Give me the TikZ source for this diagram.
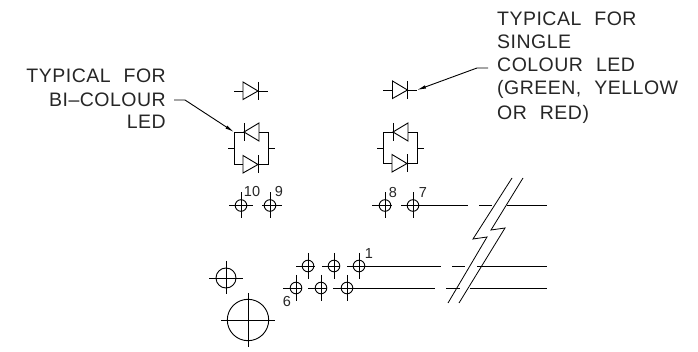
\documentclass[tikz,border=0pt]{standalone}
\usepackage{fontspec}
\setmainfont{Liberation Sans}
\usetikzlibrary{arrows.meta}
\newfontfamily\cadfont[LetterSpace=2.5,WordSpace=2.2]{Liberation Sans}
\newfontfamily\cadnum{Liberation Sans}
\tikzset{
  wire/.style={line width=0.9pt,black},
  leader/.style={line width=0.9pt,black,-{Latex[length=9pt,width=3.5pt]}},
  note/.style={font=\cadfont\fontsize{19.5}{19.5}\selectfont,inner sep=0pt,text=black!85},
  pinno/.style={font=\cadnum\fontsize{14.5}{14.5}\selectfont,inner sep=0pt,anchor=base,text=black!85},
  pics/diodeR/.style={code={% pointing right, centred on the wire
    \draw[wire] (-7.5,-9) -- (-7.5,8.5) -- (7.5,0) -- cycle;
    \draw[wire] (7.5,-9) -- (7.5,9);}},
  pics/diodeL/.style={code={% pointing left
    \draw[wire] (7.5,-9) -- (7.5,9) -- (-7.5,0) -- cycle;
    \draw[wire] (-7.5,-9) -- (-7.5,9);}},
  pics/pin/.style={code={%
    \draw[wire] (0,0) circle (5.8);
    \draw[wire] (0,-13) -- (0,13);}}
}
\begin{document}
\begin{tikzpicture}[x=1pt,y=-1pt]
\useasboundingbox (0,0) rectangle (698,352);
% Left notes
\node[note,anchor=base east] (ta) at (166,83) {TYPICAL FOR};
\node[note,anchor=base east] (tb) at (166,106.5) {BI–COLOUR};
\node[note,anchor=base east] (tc) at (166,128.5) {LED};
% Right notes
\node[note,anchor=base west] (ra) at (497,26) {TYPICAL FOR};
\node[note,anchor=base west] (rb) at (497,49) {SINGLE};
\node[note,anchor=base west] (rc) at (497,71.5) {COLOUR LED};
\node[note,anchor=base west] (rd) at (497,95) {(GREEN, YELLOW};
\node[note,anchor=base west] (re) at (497,119.5) {OR RED)};
% Leaders
\coordinate (la) at (174,100); \coordinate (lb) at (185,100); \coordinate (lc) at (234,132);
\coordinate (ma) at (488,68); \coordinate (mb) at (477,68); \coordinate (mc) at (417,90);
\draw[leader] (la) -- (lb) -- (lc);
\draw[leader] (ma) -- (mb) -- (mc);
% Left single diode
\draw[wire] (234,91) -- (243,91);
\draw[wire] (258,91) -- (268,91);
\pic at (250.5,91) {diodeR};
% Left bi-colour
\draw[wire] (228,148) -- (234.5,148);
\draw[wire] (268,148) -- (275,148);
\draw[wire] (244,132) -- (234.5,132) -- (234.5,164.5) -- (243,164.5);
\draw[wire] (258,164.5) -- (268,164.5) -- (268,132) -- (259,132);
\pic at (251.5,132) {diodeL};
\pic at (250.5,164.5) {diodeR};
% Right single diode
\draw[wire] (383,90) -- (392.5,90);
\draw[wire] (407.5,90) -- (417,90);
\pic at (400,90) {diodeR};
% Right bi-colour
\draw[wire] (377,148) -- (383,148);
\draw[wire] (417,148) -- (424,148);
\draw[wire] (393,132) -- (383,132) -- (383,163.5) -- (392,163.5);
\draw[wire] (407,163.5) -- (417,163.5) -- (417,132) -- (408,132);
\pic at (400.5,132) {diodeL};
\pic at (399.5,163.5) {diodeR};
% Upper pins
\foreach \x in {241,270,385,413} \pic at (\x,205.5) {pin};
\draw[wire] (229,205.5) -- (253,205.5);
\draw[wire] (262,205.5) -- (282,205.5);
\draw[wire] (372,205.5) -- (392,205.5);
\draw[wire] (401,205.5) -- (468,205.5);
\draw[wire] (479,205.5) -- (492,205.5);
\draw[wire] (507,205.5) -- (547,205.5);
\node[pinno] (n10) at (252,197) {10};
\node[pinno] (n9) at (279,197) {9};
\node[pinno] (n8) at (393,198) {8};
\node[pinno] (n7) at (423,198) {7};
% Lower pins
\foreach \x in {308,334,359} \pic at (\x,266) {pin};
\foreach \x in {296,321,347} \pic at (\x,288) {pin};
\draw[wire] (296,266) -- (315,266);
\draw[wire] (322,266) -- (340,266);
\draw[wire] (347,266) -- (441,266);
\draw[wire] (452,266) -- (465,266);
\draw[wire] (477,266) -- (547,266);
\draw[wire] (283,288) -- (302,288);
\draw[wire] (308,288) -- (327,288);
\draw[wire] (333,288) -- (435,288);
\draw[wire] (446,288) -- (460,288);
\draw[wire] (470,288) -- (547,288);
\node[pinno] (n1) at (369,259) {1};
\node[pinno] (n6) at (287,307) {6};
% Holes
\draw[wire] (226,278) circle (10);
\draw[wire] (209,278) -- (243,278);
\draw[wire] (226,261) -- (226,294);
\draw[wire] (248,320) circle (20.7);
\draw[wire] (221,320) -- (275,320);
\draw[wire] (248,293) -- (248,347);
% Break lines
\draw[wire,line width=0.8pt] (512,178) -- (473,239) -- (487,237) -- (448,303);
\draw[wire,line width=0.8pt] (523,178) -- (491,230) -- (505,228) -- (459,303);
\end{tikzpicture}
\end{document}
